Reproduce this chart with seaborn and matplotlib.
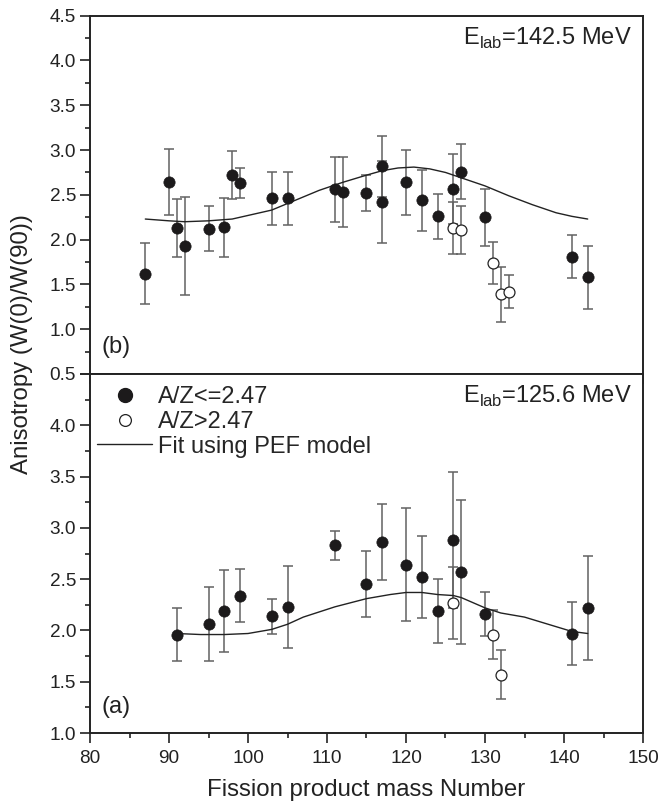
import numpy as np
import pandas as pd
import matplotlib
matplotlib.use("Agg")
import matplotlib.pyplot as plt
from matplotlib.lines import Line2D
from matplotlib.ticker import MultipleLocator, FormatStrFormatter, FuncFormatter
import seaborn as sns

# ---------------- datos panel (b): E_lab = 142.5 MeV ----------------
b_mass = [87, 90, 91, 92, 95, 97, 98, 99, 103, 105, 111, 112, 115, 117, 117,
          120, 122, 124, 126, 127, 130, 141, 143]
b_aniso = [1.62, 2.64, 2.13, 1.93, 2.12, 2.14, 2.72, 2.63, 2.46, 2.46, 2.56, 2.53,
           2.52, 2.82, 2.42, 2.64, 2.44, 2.26, 2.57, 2.76, 2.25, 1.81, 1.58]
b_err = [0.34, 0.37, 0.32, 0.55, 0.25, 0.33, 0.27, 0.17, 0.30, 0.30, 0.36, 0.39,
         0.20, 0.34, 0.46, 0.36, 0.34, 0.25, 0.39, 0.31, 0.32, 0.24, 0.35]

b_open_mass = [126, 127, 131, 132, 133]
b_open_aniso = [2.13, 2.11, 1.74, 1.39, 1.42]
b_open_err = [0.29, 0.27, 0.23, 0.31, 0.18]

b_fit_mass = [87, 90, 92, 95, 98, 100, 103, 106, 109, 112, 115, 117, 119, 121,
              123, 125, 127, 130, 133, 136, 139, 141, 143]
b_fit = [2.23, 2.21, 2.20, 2.21, 2.23, 2.27, 2.33, 2.44, 2.55, 2.64, 2.72, 2.77,
         2.80, 2.81, 2.79, 2.75, 2.69, 2.60, 2.49, 2.39, 2.30, 2.26, 2.23]

# ---------------- datos panel (a): E_lab = 125.6 MeV ----------------
a_mass = [91, 95, 97, 99, 103, 105, 111, 115, 117, 120, 122, 124, 126, 127, 130, 141, 143]
a_aniso = [1.96, 2.06, 2.19, 2.34, 2.14, 2.23, 2.83, 2.45, 2.86, 2.64, 2.52, 2.19,
           2.88, 2.57, 2.16, 1.97, 2.22]
a_err = [0.26, 0.36, 0.40, 0.26, 0.17, 0.40, 0.14, 0.32, 0.37, 0.55, 0.40, 0.31,
         0.66, 0.70, 0.21, 0.31, 0.51]

a_open_mass = [126, 131, 132]
a_open_aniso = [2.27, 1.96, 1.57]
a_open_err = [0.35, 0.24, 0.24]

a_fit_mass = [91, 94, 97, 100, 103, 105, 107, 109, 111, 113, 115, 118, 120, 122,
              124, 126, 127, 130, 132, 135, 138, 141, 143]
a_fit = [1.97, 1.96, 1.96, 1.97, 2.01, 2.06, 2.13, 2.18, 2.23, 2.27, 2.31, 2.35,
         2.37, 2.37, 2.35, 2.34, 2.32, 2.22, 2.17, 2.13, 2.06, 1.99, 1.97]

sns.set_theme(style="ticks")
plt.rcParams["font.family"] = ["Liberation Sans", "DejaVu Sans"]
plt.rcParams["mathtext.fontset"] = "custom"
plt.rcParams["mathtext.rm"] = "Liberation Sans"

fig = plt.figure(figsize=(6.59, 8.02), dpi=100)
left, width = 90 / 659, (643 - 90) / 659
ax_b = fig.add_axes([left, 1 - 374 / 802, width, (374 - 15.7) / 802])
ax_a = fig.add_axes([left, 1 - 733 / 802, width, (733 - 374) / 802], sharex=ax_b)

ebar_color = "#626262"
dot_color = "#1c1a1b"
txt_color = "#222222"


def dibujar(ax, m, v, e, mo, vo, eo, fm, fv):
    # barras de error primero, luego ajuste y puntos
    ax.errorbar(m, v, yerr=e, fmt="none", ecolor=ebar_color, elinewidth=1.1,
                capsize=3.9, capthick=1.1, zorder=2)
    ax.errorbar(mo, vo, yerr=eo, fmt="none", ecolor=ebar_color, elinewidth=1.1,
                capsize=3.9, capthick=1.1, zorder=2)
    sns.lineplot(x=fm, y=fv, ax=ax, color="#222222", linewidth=1.0, zorder=3)
    sns.scatterplot(x=m, y=v, ax=ax, s=66, color=dot_color, edgecolor=dot_color,
                    linewidth=0.5, zorder=4)
    sns.scatterplot(x=mo, y=vo, ax=ax, s=62, facecolor="white", edgecolor="#222222",
                    linewidth=0.9, zorder=5)


dibujar(ax_b, b_mass, b_aniso, b_err, b_open_mass, b_open_aniso, b_open_err,
        b_fit_mass, b_fit)
dibujar(ax_a, a_mass, a_aniso, a_err, a_open_mass, a_open_aniso, a_open_err,
        a_fit_mass, a_fit)

ax_b.set_ylim(0.5, 4.5)
ax_a.set_ylim(1.0, 4.5)
ax_a.set_xlim(80, 150)

for ax in (ax_a, ax_b):
    ax.yaxis.set_major_locator(MultipleLocator(0.5))
    ax.yaxis.set_minor_locator(MultipleLocator(0.25))
    ax.xaxis.set_major_locator(MultipleLocator(10))
    ax.xaxis.set_minor_locator(MultipleLocator(5))
    ax.tick_params(which="major", direction="out", length=7, width=1.2, pad=3,
                   labelsize=13.7, color=txt_color, labelcolor=txt_color)
    ax.tick_params(which="minor", direction="out", length=3.5, width=1.2,
                   color=txt_color)
    for sp in ax.spines.values():
        sp.set_linewidth(1.4)
        sp.set_color(txt_color)
    ax.set_ylabel("")
    ax.set_xlabel("")

ax_a.tick_params(axis="x", which="major", pad=5)
ax_b.yaxis.set_major_formatter(FormatStrFormatter("%.1f"))
# el 4.5 del panel inferior no lleva etiqueta (coincide con el 0.5 de arriba)
ax_a.yaxis.set_major_formatter(FuncFormatter(lambda v, p: "" if v > 4.4 else f"{v:.1f}"))
ax_b.tick_params(axis="x", labelbottom=False)

ax_a.set_xlabel("Fission product mass Number", fontsize=17.3, color=txt_color,
                labelpad=9)
fig.text(22 / 659, 1 - 344 / 802, "Anisotropy (W(0)/W(90))", rotation=90,
         ha="center", va="center", fontsize=17.3, color=txt_color)

ax_b.text(1 - 11 / 553, 1 - 10 / 358, r"E$_{\mathrm{lab}}$=142.5 MeV",
          transform=ax_b.transAxes, ha="right", va="top", fontsize=17, color=txt_color)
ax_a.text(1 - 11 / 553, 1 - 10 / 359, r"E$_{\mathrm{lab}}$=125.6 MeV",
          transform=ax_a.transAxes, ha="right", va="top", fontsize=17, color=txt_color)
ax_b.text(12 / 553, 27 / 358, "(b)", transform=ax_b.transAxes, ha="left",
          va="center", fontsize=17, color=txt_color)
ax_a.text(12 / 553, 26 / 359, "(a)", transform=ax_a.transAxes, ha="left",
          va="center", fontsize=17, color=txt_color)

handles = [
    Line2D([], [], linestyle="none", marker="o", markersize=10,
           markerfacecolor=dot_color, markeredgecolor=dot_color),
    Line2D([], [], linestyle="none", marker="o", markersize=8.5,
           markerfacecolor="white", markeredgecolor="#222222", markeredgewidth=0.9),
    Line2D([], [], color="#222222", linewidth=1.0),
]
ax_a.legend(handles, ["A/Z<=2.47", "A/Z>2.47", "Fit using PEF model"],
            loc="upper left", frameon=False, fontsize=17, handlelength=2.33,
            handletextpad=0.25, labelspacing=0.12, borderaxespad=0,
            bbox_to_anchor=(-0.004, 0.993))

fig.savefig("out.png", dpi=100)
